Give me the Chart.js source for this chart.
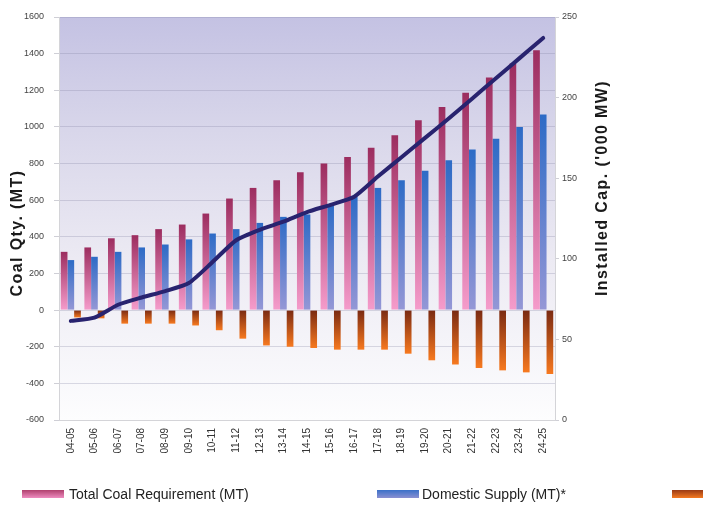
<!DOCTYPE html>
<html>
<head>
<meta charset="utf-8">
<script src="https://cdn.jsdelivr.net/npm/chart.js@4.4.1/dist/chart.umd.min.js"></script>
<style>
  html, body { margin: 0; padding: 0; background: #fff; overflow: hidden; }
  #wrap { position: relative; width: 703px; height: 506px; }
  #chart { position: absolute; left: 0; top: 0; }
  .legend { position: absolute; top: 485px; left: 0; width: 900px; height: 20px; font-family: "Liberation Sans", Arial, sans-serif; font-size: 14px; color: #222; }
  .legend .sw { position: absolute; top: 5px; width: 42px; height: 8px; }
  .legend .tx { position: absolute; top: 0; line-height: 18px; white-space: nowrap; }
</style>
</head>
<body>
<div id="wrap">
  <canvas id="chart" width="703" height="506"></canvas>
  <div class="legend">
    <div class="sw" style="left:22px;background:linear-gradient(#b0406e,#ee8cc0);"></div>
    <div class="tx" style="left:69px;">Total Coal Requirement (MT)</div>
    <div class="sw" style="left:377px;background:linear-gradient(#3a70c8,#8a90d2);"></div>
    <div class="tx" style="left:422px;">Domestic Supply (MT)*</div>
    <div class="sw" style="left:672px;background:linear-gradient(#9a3a14,#f47a22);"></div>
    <div class="tx" style="left:718px;">Gap (MT)</div>
  </div>
</div>
<script>
// values
const categories = ['04-05', '05-06', '06-07', '07-08', '08-09', '09-10', '10-11', '11-12', '12-13', '13-14',
    '14-15', '15-16', '16-17', '17-18', '18-19', '19-20', '20-21', '21-22', '22-23', '23-24', '24-25'];
const totalRequirement = [318, 342, 392, 409, 442, 467, 527, 609, 667, 709, 752, 800, 836, 886, 955, 1037, 1109, 1186, 1270, 1346, 1418];
const domesticSupply = [273, 291, 318, 342, 358, 386, 418, 442, 476, 509, 522, 573, 618, 667, 709, 760, 818, 877, 935, 1000, 1068];
const gap = [-40, -45, -74, -74, -74, -84, -110, -156, -193, -200, -207, -216, -216, -216, -238, -274, -297, -316, -329, -340, -349];
const installedCap = [61.5, 63.5, 71.5, 76, 80, 85, 98, 111.5, 118, 123, 129, 133.5, 138.5, 151, 163, 175, 187, 199.5, 212, 224.5, 237];

const qtyTicks = { min: -600, max: 1600, step: 200 };
const capTicks = { min: 0, max: 250, step: 50 };

const FONT = '"Liberation Sans", Arial, sans-serif';

function barGradient(c, topColor, bottomColor) {
    const chart = c.chart;
    if (!chart.chartArea || c.type !== 'data') return topColor;
    const y = chart.scales.y;
    const yv = y.getPixelForValue(c.raw);
    const y0 = y.getPixelForValue(0);
    if (!isFinite(yv) || Math.abs(yv - y0) < 1) return topColor;
    const g = chart.ctx.createLinearGradient(0, Math.min(yv, y0), 0, Math.max(yv, y0));
    g.addColorStop(0, topColor);
    g.addColorStop(1, bottomColor);
    return g;
}

const plotBackground = {
    id: 'plotBackground',
    beforeDraw(chart) {
        const { ctx, chartArea: a } = chart;
        const g = ctx.createLinearGradient(0, a.top, 0, a.bottom);
        g.addColorStop(0, '#c4c2e3');
        g.addColorStop(0.28, '#d8d6ea');
        g.addColorStop(0.6, '#eceaf3');
        g.addColorStop(1, '#fdfdfe');
        ctx.save();
        ctx.fillStyle = g;
        ctx.fillRect(a.left, a.top, a.right - a.left, a.bottom - a.top);
        ctx.restore();
    }
};

const axisTitles = {
    id: 'axisTitles',
    afterDraw(chart) {
        const ctx = chart.ctx;
        function vtext(txt, x, y) {
            ctx.save();
            ctx.font = 'bold 16px ' + FONT;
            try { ctx.letterSpacing = '1.4px'; } catch (e) {}
            ctx.fillStyle = '#1a1a1a';
            ctx.textAlign = 'center';
            ctx.textBaseline = 'middle';
            ctx.translate(x, y);
            ctx.rotate(-Math.PI / 2);
            ctx.fillText(txt, 0, 0);
            ctx.restore();
        }
        vtext('Coal Qty. (MT)', 18, 233);
        vtext("Installed Cap. ('000 MW)", 603, 188);
    }
};

new Chart(document.getElementById('chart'), {
    data: {
        labels: categories,
        datasets: [
            {
                type: 'line',
                label: "Installed Cap. ('000 MW)",
                data: installedCap,
                yAxisID: 'y1',
                borderColor: '#28236f',
                borderWidth: 4,
                pointRadius: 0,
                tension: 0.2,
                borderCapStyle: 'round',
                order: 0
            },
            {
                type: 'bar',
                label: 'Total Coal Requirement (MT)',
                data: totalRequirement,
                yAxisID: 'y',
                backgroundColor: c => barGradient(c, '#9c2d5f', '#f59ccb'),
                categoryPercentage: 0.85,
                barPercentage: 1.0,
                order: 1
            },
            {
                type: 'bar',
                label: 'Domestic Supply (MT)*',
                data: domesticSupply,
                yAxisID: 'y',
                backgroundColor: c => barGradient(c, '#2d6bc6', '#9597d6'),
                categoryPercentage: 0.85,
                barPercentage: 1.0,
                order: 1
            },
            {
                type: 'bar',
                label: 'Gap (MT)',
                data: gap,
                yAxisID: 'y',
                backgroundColor: c => barGradient(c, '#7a2a12', '#f7791f'),
                categoryPercentage: 0.85,
                barPercentage: 1.0,
                order: 1
            }
        ]
    },
    options: {
        responsive: false,
        animation: false,
        layout: { padding: { top: 17, left: 0, right: 0, bottom: 0 } },
        plugins: { legend: { display: false }, tooltip: { enabled: false } },
        scales: {
            x: {
                grid: { display: false, drawTicks: false },
                border: { display: true, color: '#d4d4d8', width: 1 },
                ticks: { minRotation: 90, maxRotation: 90, autoSkip: false, padding: 8, color: '#333', font: { family: FONT, size: 10 } },
                afterFit(s) { s.height = 86; }
            },
            y: {
                position: 'left',
                min: qtyTicks.min,
                max: qtyTicks.max,
                grid: { color: 'rgba(130,130,160,0.28)', tickLength: 5, tickColor: '#cfcfd6' },
                border: { display: true, color: '#d4d4d8', width: 1 },
                ticks: { stepSize: qtyTicks.step, padding: 10, color: '#444', font: { family: FONT, size: 9 }, callback: v => String(v) },
                afterFit(s) { s.width = 59; }
            },
            y1: {
                position: 'right',
                min: capTicks.min,
                max: capTicks.max,
                grid: { drawOnChartArea: false, tickLength: 4, tickColor: '#cfcfd6' },
                border: { display: true, color: '#d4d4d8', width: 1 },
                ticks: { stepSize: capTicks.step, padding: 3, color: '#444', font: { family: FONT, size: 9 }, callback: v => String(v) },
                afterFit(s) { s.width = 148; }
            }
        }
    },
    plugins: [plotBackground, axisTitles]
});
</script>
</body>
</html>
